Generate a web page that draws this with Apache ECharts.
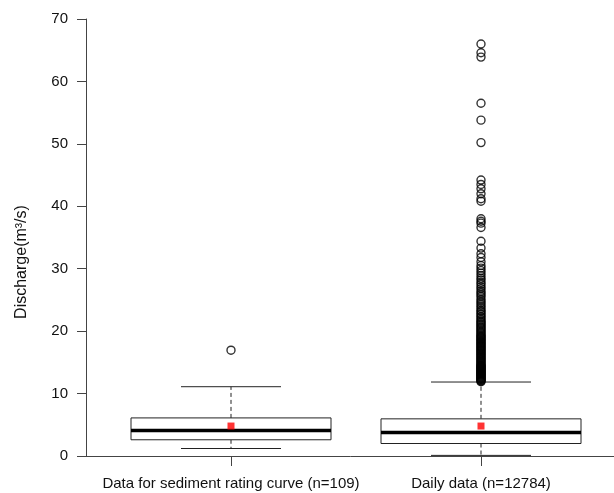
<!DOCTYPE html>
<html>
<head>
<meta charset="utf-8">
<script src="https://cdn.jsdelivr.net/npm/echarts@6/dist/echarts.min.js"></script>
<style>
  html, body { margin: 0; padding: 0; background: #fff; }
  #mychart1 { width: 614px; height: 493px; }
</style>
</head>
<body>
<div id="mychart1"></div>
<script>
// groups on the x axis
var categories = ['Data for sediment rating curve (n=109)', 'Daily data (n=12784)'];
// [lower whisker, Q1, median, Q3, upper whisker]
var ratingBox = [1.2, 2.6, 4.1, 6.1, 11.1];
var dailyBox = [0.1, 2.0, 3.75, 5.95, 11.85];
var means = [4.8, 4.8];
var ratingOutliers = [16.95];
var dailyOutliers = [
  11.9, 12.0, 12.1, 12.2, 12.3, 12.4, 12.5, 12.6, 12.7, 12.8, 12.9, 13.0, 13.1, 13.2,
  13.3, 13.4, 13.5, 13.6, 13.7, 13.8, 13.9, 14.0, 14.1, 14.2, 14.3, 14.4, 14.5, 14.6,
  14.75, 14.9, 15.05, 15.2, 15.35, 15.5, 15.65,
  15.8, 15.95, 16.1, 16.25, 16.4, 16.55, 16.7, 16.85, 17.0, 17.15, 17.3, 17.45, 17.6,
  17.75, 17.9, 18.05, 18.2, 18.35, 18.5, 18.65, 18.8, 18.95, 19.1, 19.25, 19.4, 19.6,
  19.8, 20.0, 20.2, 20.4, 20.6, 20.8, 21.0, 21.2, 21.4, 21.6, 21.8, 22.1, 22.3, 22.6,
  22.8, 23.1,
  23.3, 23.6, 23.9, 24.2, 24.5, 24.8, 25.1, 25.5, 25.8, 26.1, 26.4, 26.8, 27.1, 27.5,
  27.8, 28.2, 28.5, 28.9, 29.3, 29.7, 30.1, 30.5,
  31.1, 31.8, 32.4, 33.3, 34.4, 36.6, 37.3, 37.6, 38.0,
  40.8, 41.2, 42.0, 42.8, 43.5, 44.2, 50.2, 53.8, 56.5, 63.9, 64.6, 66.0
];
var yTicks = [0, 10, 20, 30, 40, 50, 60, 70];

var boxHalf = 0.4;   // half box width in x units
var capHalf = 0.2;   // half whisker cap width
var lineColor = '#222';
var fontFamily = '"Liberation Sans", Arial, sans-serif';

var boxData = [ratingBox, dailyBox].map(function (s, i) {
  return [i + 1].concat(s);
});
var outlierData = ratingOutliers.map(function (v) { return [1, v]; })
  .concat(dailyOutliers.map(function (v) { return [2, v]; }));
var meanData = means.map(function (v, i) { return [i + 1, v]; });

function renderBox(params, api) {
  var x = api.value(0);
  var pMin = api.coord([x, api.value(1)]);
  var pQ1 = api.coord([x, api.value(2)]);
  var pMed = api.coord([x, api.value(3)]);
  var pQ3 = api.coord([x, api.value(4)]);
  var pMax = api.coord([x, api.value(5)]);
  var bw = api.size([boxHalf, 0])[0];
  var cw = api.size([capHalf, 0])[0];
  var cx = pMed[0];
  var dashed = { stroke: lineColor, lineWidth: 1, lineDash: [4, 3] };
  var solid = { stroke: lineColor, lineWidth: 1 };
  return {
    type: 'group',
    children: [
      { type: 'line', shape: { x1: cx, y1: pQ3[1], x2: cx, y2: pMax[1] }, style: dashed },
      { type: 'line', shape: { x1: cx, y1: pQ1[1], x2: cx, y2: pMin[1] }, style: dashed },
      { type: 'line', shape: { x1: cx - cw, y1: pMax[1], x2: cx + cw, y2: pMax[1] }, style: solid },
      { type: 'line', shape: { x1: cx - cw, y1: pMin[1], x2: cx + cw, y2: pMin[1] }, style: solid },
      {
        type: 'rect',
        shape: { x: cx - bw, y: pQ3[1], width: bw * 2, height: pQ1[1] - pQ3[1] },
        style: { fill: '#fff', stroke: lineColor, lineWidth: 1 }
      },
      {
        type: 'line',
        shape: { x1: cx - bw, y1: pMed[1], x2: cx + bw, y2: pMed[1] },
        style: { stroke: '#000', lineWidth: 3.5 }
      }
    ]
  };
}

var option = {
  animation: false,
  backgroundColor: '#fff',
  textStyle: { fontFamily: fontFamily },
  // plot region runs past the right edge, as in the original
  grid: { left: 86, width: 540, top: 19, bottom: 37, containLabel: false, outerBoundsMode: 'none' },
  xAxis: {
    type: 'value',
    min: 0.42,
    max: 2.58,
    splitLine: { show: false },
    axisLine: { show: true, lineStyle: { color: '#444', width: 1 } },
    axisTick: { show: true, length: 10, customValues: [1, 2], lineStyle: { color: '#444' } },
    axisLabel: {
      customValues: [1, 2],
      margin: 20,
      color: '#111',
      fontSize: 15,
      fontFamily: fontFamily,
      formatter: function (v) { return categories[Math.round(v) - 1]; }
    }
  },
  yAxis: {
    type: 'value',
    min: yTicks[0],
    max: yTicks[yTicks.length - 1],
    interval: 10,
    splitLine: { show: false },
    axisLine: { show: true, lineStyle: { color: '#444', width: 1 } },
    axisTick: { show: true, length: 9, lineStyle: { color: '#444' } },
    axisLabel: { margin: 18, color: '#111', fontSize: 15, fontFamily: fontFamily }
  },
  graphic: [{
    type: 'text',
    x: 22,
    y: 262,
    rotation: Math.PI / 2,
    style: {
      text: 'Discharge(m³/s)',
      font: '16px ' + fontFamily,
      fill: '#111',
      align: 'center',
      verticalAlign: 'middle'
    }
  }],
  series: [
    {
      type: 'custom',
      renderItem: renderBox,
      encode: { x: 0, y: [1, 2, 3, 4, 5] },
      data: boxData,
      z: 2
    },
    {
      type: 'scatter',
      symbol: 'circle',
      symbolSize: 8,
      itemStyle: { color: 'rgba(0,0,0,0)', borderColor: '#000', borderWidth: 1.4 },
      data: outlierData,
      z: 3
    },
    {
      type: 'scatter',
      symbol: 'rect',
      symbolSize: 7,
      itemStyle: { color: '#ff0000' },
      data: meanData,
      z: 4
    }
  ]
};

var myChart = echarts.init(document.getElementById('mychart1'));
myChart.setOption(option);
</script>
</body>
</html>
